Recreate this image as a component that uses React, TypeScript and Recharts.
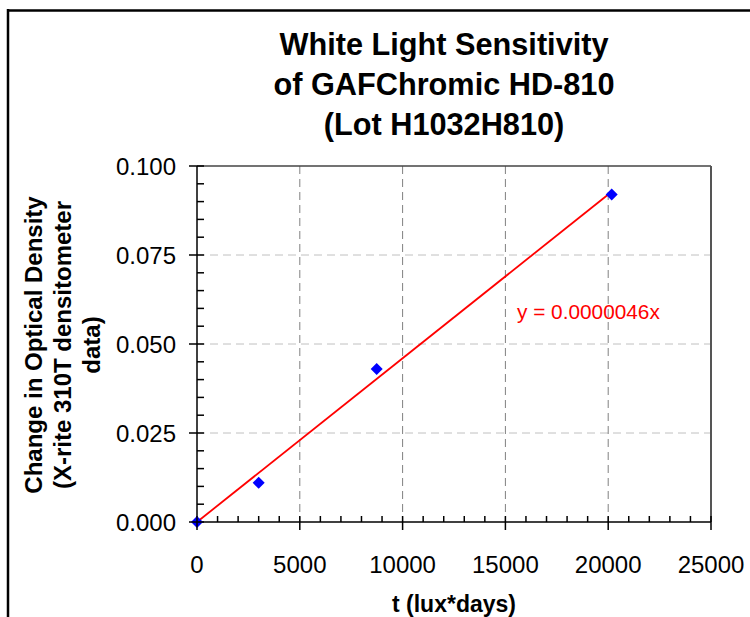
import { ComposedChart, Scatter, Line, XAxis, YAxis, CartesianGrid, ReferenceLine } from 'recharts';

// measured points: exposure (lux*days) vs change in optical density
const exposure = [0, 3000, 8740, 20170];
const densityChange = [0, 0.011, 0.043, 0.092];

// linear trendline y = 0.0000046x, drawn between its two end points
const trendX = [0, 20200];
const trendY = [0, 0.0929];

const xMajor = [0, 5000, 10000, 15000, 20000, 25000];
const xAll = [
  0, 1000, 2000, 3000, 4000, 5000, 6000, 7000, 8000, 9000, 10000, 11000, 12000, 13000,
  14000, 15000, 16000, 17000, 18000, 19000, 20000, 21000, 22000, 23000, 24000, 25000,
];
const yMajor = [0, 0.025, 0.05, 0.075, 0.1];
const yAll = [
  0, 0.005, 0.01, 0.015, 0.02, 0.025, 0.03, 0.035, 0.04, 0.045, 0.05, 0.055, 0.06, 0.065,
  0.07, 0.075, 0.08, 0.085, 0.09, 0.095, 0.1,
];

const titleLines = ['White Light Sensitivity', 'of GAFChromic HD-810', '(Lot H1032H810)'];
const yTitleLines = ['Change in Optical Density', '(X-rite 310T densitometer', 'data)'];
const xTitle = 't (lux*days)';
const equation = 'y = 0.0000046x';

const FONT = '"Liberation Sans", Arial, Helvetica, sans-serif';

const points = exposure.map((x, i) => ({ x, y: densityChange[i] }));
const trend = trendX.map((x, i) => ({ x, y: trendY[i] }));

const XTick = ({ x, y, payload }: any) => {
  const major = xMajor.includes(payload.value);
  return (
    <g>
      <line x1={x} x2={x} y1={y - 6} y2={major ? y + 8 : y} stroke="#000" strokeWidth={1.5} />
      {major && (
        <text x={x} y={y + 51} textAnchor="middle" fontSize={24} fontFamily={FONT} fill="#000">
          {payload.value}
        </text>
      )}
    </g>
  );
};

const YTick = ({ x, y, payload }: any) => {
  const major = yMajor.includes(payload.value);
  return (
    <g>
      <line x1={major ? x - 8 : x} x2={x + 7} y1={y} y2={y} stroke="#000" strokeWidth={1.5} />
      {major && (
        <text x={x - 21} y={y + 8.5} textAnchor="end" fontSize={24} fontFamily={FONT} fill="#000">
          {payload.value.toFixed(3)}
        </text>
      )}
    </g>
  );
};

const Diamond = ({ cx, cy }: any) => (
  <polygon points={`${cx},${cy - 6} ${cx + 6},${cy} ${cx},${cy + 6} ${cx - 6},${cy}`} fill="#0000ff" />
);

export default function App() {
  return (
    <div style={{ position: 'absolute', left: 0, top: 0, width: 750, height: 617, background: '#fff' }}>
      <svg width={750} height={617} style={{ position: 'absolute', left: 0, top: 0 }}>
        <line x1={8} x2={8} y1={9} y2={617} stroke="#000" strokeWidth={2.5} />
        <line x1={7} x2={750} y1={10.5} y2={10.5} stroke="#000" strokeWidth={2.5} />
        {titleLines.map((t, i) => (
          <text key={t} x={444} y={55 + i * 40} textAnchor="middle" fontSize={30.7} fontWeight="bold" fontFamily={FONT}>
            {t}
          </text>
        ))}
        {yTitleLines.map((t, i) => (
          <text
            key={t}
            transform={`translate(${41.5 + i * 29},345) rotate(-90)`}
            textAnchor="middle"
            fontSize={24}
            fontWeight="bold"
            fontFamily={FONT}
          >
            {t}
          </text>
        ))}
        <text x={454} y={612} textAnchor="middle" fontSize={23} fontWeight="bold" fontFamily={FONT}>
          {xTitle}
        </text>
        <text x={517} y={319} fontSize={20.8} fontFamily={FONT} fill="#ff0000">
          {equation}
        </text>
      </svg>
      <div style={{ position: 'absolute', left: 0, top: 0 }}>
        <ComposedChart width={750} height={617} margin={{ top: 166, right: 39, left: 117, bottom: 35 }}>
          <CartesianGrid
            vertical={false}
            horizontalValues={[0.025, 0.05, 0.075]}
            stroke="#c0c0c0"
            strokeDasharray="8 5"
          />
          <CartesianGrid
            horizontal={false}
            verticalValues={[5000, 10000, 15000, 20000]}
            stroke="#808080"
            strokeDasharray="8 5"
          />
          <ReferenceLine y={0.1} stroke="#444" strokeWidth={1.5} />
          <ReferenceLine x={25000} stroke="#555" strokeWidth={2} />
          <XAxis
            type="number"
            dataKey="x"
            domain={[0, 25000]}
            ticks={xAll}
            interval={0}
            height={60}
            tickSize={0}
            tickMargin={0}
            tickLine={false}
            axisLine={{ stroke: '#000', strokeWidth: 1.5 }}
            tick={<XTick />}
          />
          <YAxis
            type="number"
            dataKey="y"
            domain={[0, 0.1]}
            ticks={yAll}
            interval={0}
            width={80}
            tickSize={0}
            tickMargin={0}
            tickLine={false}
            axisLine={{ stroke: '#000', strokeWidth: 1.5 }}
            tick={<YTick />}
          />
          <Line
            data={trend}
            dataKey="y"
            type="linear"
            stroke="#ff0000"
            strokeWidth={1.8}
            dot={false}
            activeDot={false}
            isAnimationActive={false}
          />
          <Scatter data={points} dataKey="y" fill="#0000ff" shape={<Diamond />} isAnimationActive={false} />
        </ComposedChart>
      </div>
    </div>
  );
}
